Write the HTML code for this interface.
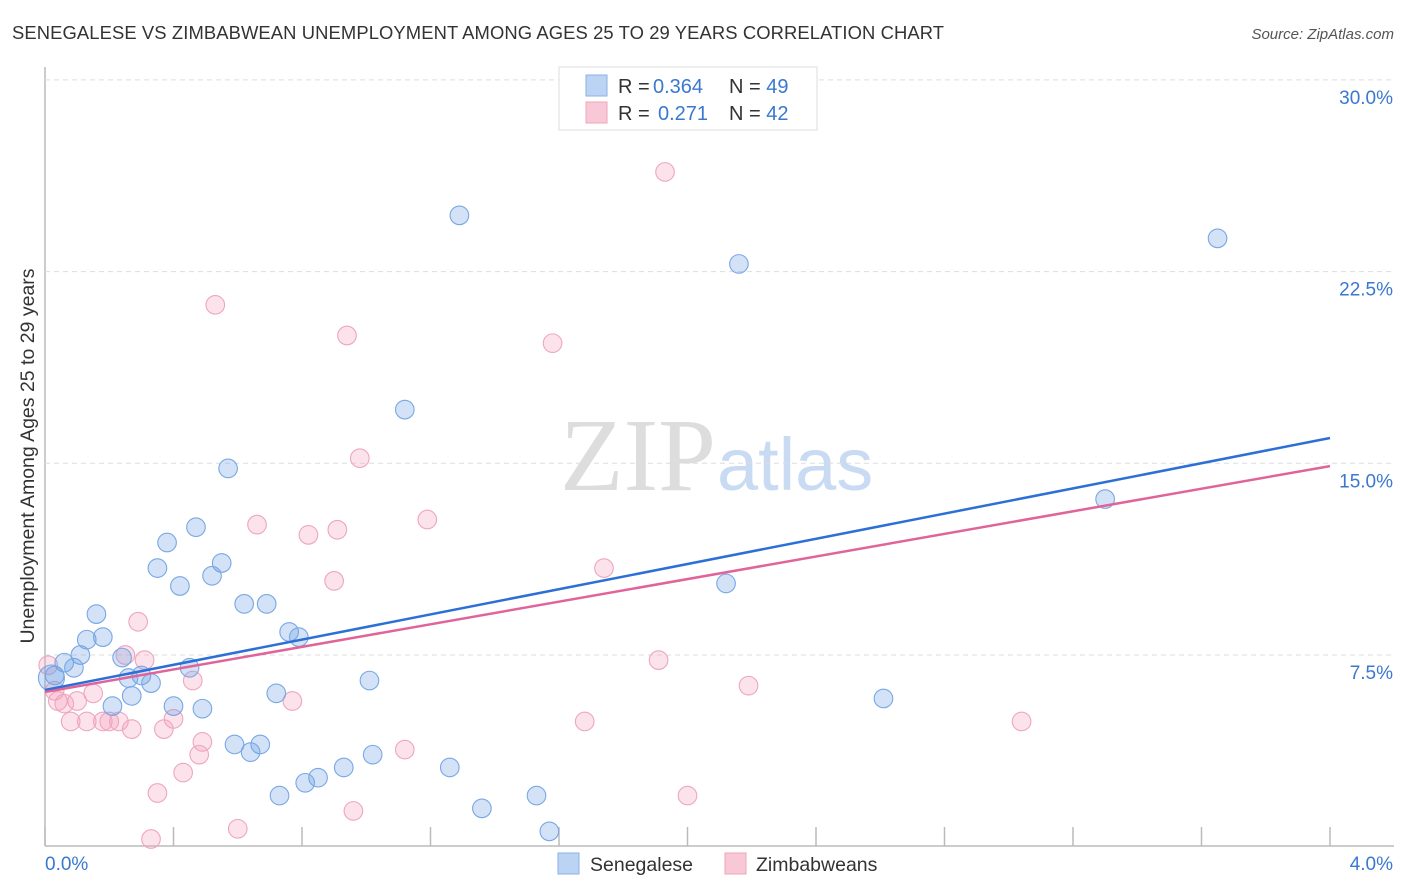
<!DOCTYPE html>
<html><head><meta charset="utf-8"><style>
body{margin:0;background:#fff;font-family:"Liberation Sans",sans-serif;}
svg{display:block}
</style></head><body>
<svg id="chart" width="1406" height="892">
<text x="12" y="39" font-size="18.4" fill="#333" textLength="932">SENEGALESE VS ZIMBABWEAN UNEMPLOYMENT AMONG AGES 25 TO 29 YEARS CORRELATION CHART</text>
<text x="1394" y="39" font-size="15" fill="#555" font-style="italic" text-anchor="end">Source: ZipAtlas.com</text>
<text x="716" y="490" font-size="104" fill="#ddd" text-anchor="end" font-family="Liberation Serif,serif">ZIP</text>
<text x="717" y="490" font-size="74" fill="#c9dbf2">atlas</text>
<text transform="translate(34,456) rotate(-90)" font-size="19.5" fill="#333" text-anchor="middle">Unemployment Among Ages 25 to 29 years</text>
<g id="grid"></g><g id="marks"></g>
<g>
<rect x="559" y="67" width="258" height="63" fill="#fff" stroke="#ddd"/>
<rect x="586" y="75" width="21" height="21" fill="#bcd4f4" stroke="#8ab2e8"/>
<rect x="586" y="102" width="21" height="21" fill="#f9c8d6" stroke="#eea3bc"/>
<text x="618" y="93" font-size="20" fill="#333">R = <tspan x="653" fill="#3a78d0">0.364</tspan><tspan x="729">N = </tspan><tspan fill="#3a78d0">49</tspan></text>
<text x="618" y="120" font-size="20" fill="#333">R = <tspan x="658" fill="#3a78d0">0.271</tspan><tspan x="729">N = </tspan><tspan fill="#3a78d0">42</tspan></text>
</g>
<g>
<rect x="558" y="853" width="21" height="21" fill="#bcd4f4" stroke="#8ab2e8"/>
<text x="590" y="871" font-size="19.5" fill="#333">Senegalese</text>
<rect x="725" y="853" width="21" height="21" fill="#f9c8d6" stroke="#eea3bc"/>
<text x="756" y="871" font-size="19.5" fill="#333">Zimbabweans</text>
</g>
</svg>
<script>
const blueX=[1.29,2.16,3.65,1.12,0.57,3.30,0.47,0.38,0.35,0.55,0.42,0.52,0.62,0.69,2.12,0.16,0.13,0.18,0.76,0.79,0.11,0.24,0.45,0.30,0.06,0.09,0.03,0.26,0.33,1.01,2.61,0.27,0.72,0.21,0.40,0.49,0.59,0.67,0.64,1.02,1.26,0.93,0.85,0.81,0.73,1.53,1.36,1.57,0.02];
const blueY=[24.7,22.8,23.8,17.1,14.8,13.6,12.5,11.9,10.9,11.1,10.2,10.6,9.5,9.5,10.3,9.1,8.1,8.2,8.4,8.2,7.5,7.4,7.0,6.7,7.2,7.0,6.7,6.6,6.4,6.5,5.8,5.9,6.0,5.5,5.5,5.4,4.0,4.0,3.7,3.6,3.1,3.1,2.7,2.5,2.0,2.0,1.5,0.6,6.6];
const pinkX=[1.93,0.53,0.94,1.58,0.98,1.19,0.66,0.91,0.82,1.74,0.90,0.29,0.25,0.31,1.91,0.46,2.19,0.15,0.04,0.10,0.06,0.77,0.40,1.68,3.04,0.08,0.13,0.20,0.23,0.18,0.27,0.37,0.49,0.48,1.12,0.43,0.35,2.00,0.96,0.60,0.33,0.01,0.03];
const pinkY=[26.4,21.2,20.0,19.7,15.2,12.8,12.6,12.4,12.2,10.9,10.4,8.8,7.5,7.3,7.3,6.5,6.3,6.0,5.7,5.7,5.6,5.7,5.0,4.9,4.9,4.9,4.9,4.9,4.9,4.9,4.6,4.6,4.1,3.6,3.8,2.9,2.1,2.0,1.4,0.7,0.3,7.1,6.1];
const yTicks=[7.5,15.0,22.5,30.0];
const xTickLabels=["0.0%","4.0%"];
const blueTrend=[6.13,15.99];
const pinkTrend=[6.05,14.89];
const X0=45,X1=1330,XMAX=4,Y0=846.7,PPY=25.56;
const sx=v=>X0+(X1-X0)*v/XMAX, sy=v=>Y0-v*PPY;
const NS="http://www.w3.org/2000/svg";
function mk(tag,attrs,parent){const e=document.createElementNS(NS,tag);for(const k in attrs)e.setAttribute(k,attrs[k]);parent.appendChild(e);return e;}
const grid=document.getElementById('grid'),marks=document.getElementById('marks');
let ax=mk('line',{x1:X0,y1:67,x2:X0,y2:846,stroke:'#bbb','stroke-width':1.5},grid);


let bx=mk('line',{x1:X0,y1:846,x2:1394,y2:846,stroke:'#bbb','stroke-width':1.5},grid);


yTicks.forEach(t=>{
 const g=mk('line',{x1:X0,y1:sy(t),x2:1394,y2:sy(t),stroke:'#ddd','stroke-dasharray':'5,4'},grid);
 
 
 const l=mk('text',{x:1393,y:sy(t)+24,'font-size':19,fill:'#3a78d0','text-anchor':'end'},grid);
 l.textContent=t.toFixed(1)+'%';
 
 
});
for(let i=0;i<=10;i++){
 const x=sx(i*0.4);
 const t=mk('line',{x1:x,y1:827,x2:x,y2:846,stroke:'#bbb','stroke-width':1.5},grid);
 
 
}
xTickLabels.forEach((s,i)=>{
 const l=mk('text',{x:i?1393:45,y:870,'font-size':19,fill:'#3a78d0','text-anchor':i?'end':'start'},grid);
 l.textContent=s;
 
 
});
function pts(xs,ys,fill,stroke,name){
 xs.forEach((v,i)=>{
  const big=(name==='senegalese-point'&&i===xs.length-1);
  const c=mk('circle',{cx:sx(v),cy:sy(ys[i]),r:big?13:9.3,fill:fill,stroke:stroke,'stroke-width':1.1},marks);
  
  
 });
}
pts(pinkX,pinkY,'rgba(244,160,188,0.3)','#eea6bf','zimbabwean-point');
pts(blueX,blueY,'rgba(110,160,228,0.3)','#78a8e4','senegalese-point');
const bl=mk('line',{x1:sx(0),y1:sy(blueTrend[0]),x2:sx(4),y2:sy(blueTrend[1]),stroke:'#2c6fd6','stroke-width':2.5},marks);


const pl=mk('line',{x1:sx(0),y1:sy(pinkTrend[0]),x2:sx(4),y2:sy(pinkTrend[1]),stroke:'#e0649a','stroke-width':2.5},marks);


</script>
</body></html>
